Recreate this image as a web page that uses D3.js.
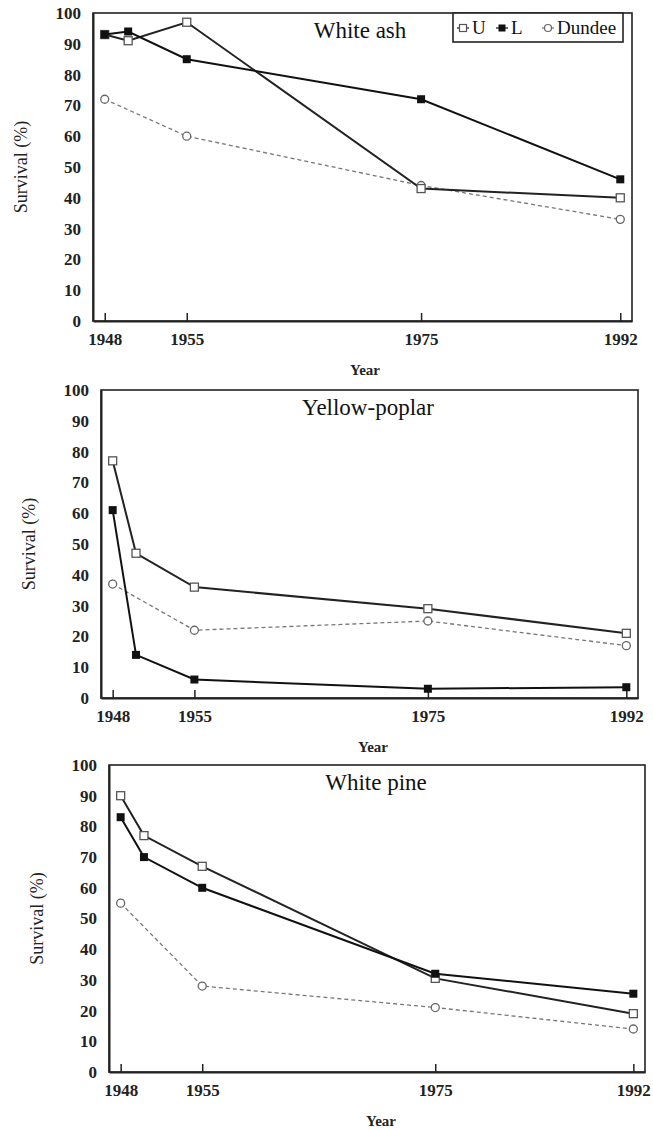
<!DOCTYPE html>
<html><head><meta charset="utf-8">
<script src="https://cdn.jsdelivr.net/npm/d3@7"></script>
<style>body{margin:0;background:#fff}</style>
</head><body>
<svg id="c" width="653" height="1130"></svg>
<script>
// ---- data ----
const years = [1948, 1950, 1955, 1975, 1992];
const dundeeYears = [1948, 1955, 1975, 1992];
const tickYears = [1948, 1955, 1975, 1992];
const yTicks = [0, 10, 20, 30, 40, 50, 60, 70, 80, 90, 100];
const seriesNames = ["U", "L", "Dundee"];
const panelTitles = ["White ash", "Yellow-poplar", "White pine"];
const whiteAshU = [93, 91, 97, 43, 40];
const whiteAshL = [93, 94, 85, 72, 46];
const whiteAshDundee = [72, 60, 44, 33];
const yellowPoplarU = [77, 47, 36, 29, 21];
const yellowPoplarL = [61, 14, 6, 3, 3.5];
const yellowPoplarDundee = [37, 22, 25, 17];
const whitePineU = [90, 77, 67, 30.5, 19];
const whitePineL = [83, 70, 60, 32, 25.5];
const whitePineDundee = [55, 28, 21, 14];
const xLabel = "Year", yLabel = "Survival (%)";

// ---- layout ----
const boxes = [
  {left: 93, top: 13, right: 632, bottom: 321},
  {left: 101, top: 390, right: 638, bottom: 698},
  {left: 109, top: 765, right: 645, bottom: 1072}
];
const panelData = [
  {U: whiteAshU, L: whiteAshL, D: whiteAshDundee},
  {U: yellowPoplarU, L: yellowPoplarL, D: yellowPoplarDundee},
  {U: whitePineU, L: whitePineL, D: whitePineDundee}
];
const FONT = "'Liberation Serif','Times New Roman',serif";
const svg = d3.select("#c");

boxes.forEach((b, i) => {
  const x = d3.scaleLinear().domain([1947, 1993]).range([b.left, b.right]);
  const y = d3.scaleLinear().domain([0, 100]).range([b.bottom, b.top]);
  const g = svg.append("g");
  const d = panelData[i];

  // frame
  g.append("rect").attr("x", b.left).attr("y", b.top)
    .attr("width", b.right - b.left).attr("height", b.bottom - b.top)
    .attr("fill", "none").attr("stroke", "#222").attr("stroke-width", 1.6);

  // y axis
  const ya = g.append("g").attr("transform", `translate(${b.left},0)`)
    .call(d3.axisLeft(y).tickValues(yTicks).tickSize(0).tickPadding(12));
  ya.select(".domain").attr("stroke", "#222").attr("stroke-width", 2);
  ya.selectAll("text").attr("font-family", FONT).attr("font-size", 17)
    .attr("font-weight", "bold").attr("fill", "#222");

  // x axis (inward ticks)
  const xa = g.append("g").attr("transform", `translate(0,${b.bottom})`)
    .call(d3.axisBottom(x).tickValues(tickYears).tickFormat(d3.format("d"))
      .tickSizeInner(-8).tickSizeOuter(0).tickPadding(12));
  xa.select(".domain").attr("stroke", "#222").attr("stroke-width", 2);
  xa.selectAll("line").attr("stroke", "#222").attr("stroke-width", 1.5);
  xa.selectAll("text").attr("font-family", FONT).attr("font-size", 17)
    .attr("font-weight", "bold").attr("fill", "#222");

  // labels
  g.append("text").attr("x", b.left + 272).attr("y", b.bottom + 54)
    .attr("text-anchor", "middle").attr("font-family", FONT).attr("font-size", 15)
    .attr("font-weight", "bold").attr("fill", "#222").text(xLabel);
  g.append("text")
    .attr("transform", `translate(${b.left - 72},${(b.top + b.bottom) / 2}) rotate(-90)`)
    .attr("text-anchor", "middle").attr("dominant-baseline", "central")
    .attr("font-family", FONT).attr("font-size", 18).attr("fill", "#222").text(yLabel);
  g.append("text").attr("x", b.left + 267).attr("y", b.top + 25)
    .attr("text-anchor", "middle").attr("font-family", FONT).attr("font-size", 23)
    .attr("fill", "#111").text(panelTitles[i]);

  const line = d3.line().x(p => x(p[0])).y(p => y(p[1]));
  const dPts = dundeeYears.map((yr, k) => [yr, d.D[k]]);
  const uPts = years.map((yr, k) => [yr, d.U[k]]);
  const lPts = years.map((yr, k) => [yr, d.L[k]]);

  // Dundee
  g.append("path").attr("d", line(dPts)).attr("fill", "none")
    .attr("stroke", "#777").attr("stroke-width", 1.3).attr("stroke-dasharray", "4,3");
  g.selectAll(".dc").data(dPts).enter().append("circle")
    .attr("cx", p => x(p[0])).attr("cy", p => y(p[1])).attr("r", 4)
    .attr("fill", "#fff").attr("stroke", "#666").attr("stroke-width", 1.3);

  // U
  g.append("path").attr("d", line(uPts)).attr("fill", "none")
    .attr("stroke", "#222").attr("stroke-width", 2);
  g.selectAll(".us").data(uPts).enter().append("rect")
    .attr("x", p => x(p[0]) - 4).attr("y", p => y(p[1]) - 4)
    .attr("width", 8).attr("height", 8)
    .attr("fill", "#fff").attr("stroke", "#555").attr("stroke-width", 1.3);

  // L
  g.append("path").attr("d", line(lPts)).attr("fill", "none")
    .attr("stroke", "#111").attr("stroke-width", 2);
  g.selectAll(".ls").data(lPts).enter().append("rect")
    .attr("x", p => x(p[0]) - 4).attr("y", p => y(p[1]) - 4)
    .attr("width", 8).attr("height", 8).attr("fill", "#111");
});

// legend (first panel)
const lg = svg.append("g");
lg.append("rect").attr("x", 453).attr("y", 13).attr("width", 170).attr("height", 29)
  .attr("fill", "#fff").attr("stroke", "#222").attr("stroke-width", 1.6);
const legX = [463, 502, 548];
seriesNames.forEach((nm, k) => {
  const cx = legX[k], cy = 28;
  lg.append("line").attr("x1", cx - 6).attr("x2", cx + 6).attr("y1", cy).attr("y2", cy)
    .attr("stroke", k === 2 ? "#777" : "#222").attr("stroke-width", 1.3);
  if (k === 0) lg.append("rect").attr("x", cx - 3.5).attr("y", cy - 3.5).attr("width", 7).attr("height", 7)
    .attr("fill", "#fff").attr("stroke", "#555").attr("stroke-width", 1.2);
  if (k === 1) lg.append("rect").attr("x", cx - 3.5).attr("y", cy - 3.5).attr("width", 7).attr("height", 7)
    .attr("fill", "#111");
  if (k === 2) lg.append("circle").attr("cx", cx).attr("cy", cy).attr("r", 3.5)
    .attr("fill", "#fff").attr("stroke", "#666").attr("stroke-width", 1.2);
  lg.append("text").attr("x", cx + 9).attr("y", cy + 6).attr("font-family", FONT)
    .attr("font-size", 19).attr("fill", "#111").text(nm);
});
</script>
</body></html>
